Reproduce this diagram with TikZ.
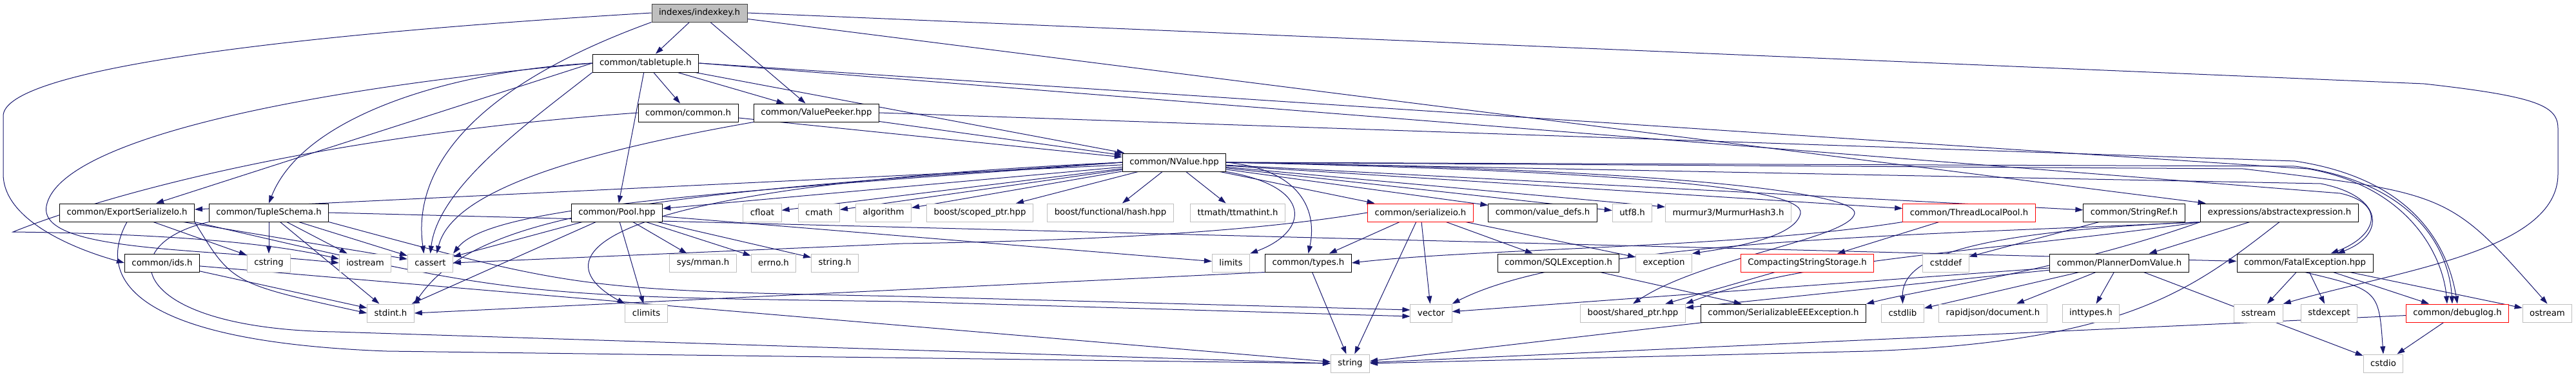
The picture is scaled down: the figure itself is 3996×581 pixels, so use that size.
\documentclass[tikz,border=0pt]{standalone}
\usepackage{fontspec}
\setmainfont{DejaVu Sans}
\usepackage{xcolor}
\usepackage{tikz}
\usetikzlibrary{arrows.meta, backgrounds, calc}
\definecolor{edgeColor}{HTML}{191970}
\definecolor{extBorder}{HTML}{BFBFBF}
\definecolor{rootFill}{HTML}{BFBFBF}
\definecolor{rootBorder}{HTML}{404040}
\definecolor{truncBorder}{HTML}{FF0000}

\begin{document}
\begin{tikzpicture}[x=1pt, y=-1pt,
    file/.style={rectangle, fill=white, line width=1pt, minimum height=28pt,
        inner xsep=11pt, inner ysep=0pt, font=\fontsize{13.3}{16}\selectfont},
    hdr/.style={file, draw=black},
    sys/.style={file, draw=extBorder},
    trunc/.style={file, draw=truncBorder},
    root/.style={file, fill=rootFill, draw=rootBorder},
    dep/.style={draw=edgeColor, line width=1pt, -{Triangle[length=12pt, width=8pt]}}]
    \useasboundingbox (0,0) rectangle (3996,581);

    \node[root] (ik) at (1085,20) {indexes/indexkey.h};
    \node[hdr] (tt) at (1001.5,98) {common/tabletuple.h};
    \node[hdr] (cm) at (1067.5,175) {common/common.h};
    \node[hdr] (vp) at (1266.5,175) {common/ValuePeeker.hpp};
    \node[hdr] (nv) at (1821.5,252) {common/NValue.hpp};

    \node[hdr] (esio) at (197,330) {common/ExportSerializeIo.h};
    \node[hdr] (ts) at (417,330) {common/TupleSchema.h};
    \node[hdr] (pool) at (957,330) {common/Pool.hpp};
    \node[sys] (cfloat) at (1182.5,330) {cfloat};
    \node[sys] (cmath) at (1270.5,330) {cmath};
    \node[sys] (algorithm) at (1370.5,330) {algorithm};
    \node[sys] (scoped) at (1520,330) {boost/scoped\_ptr.hpp};
    \node[sys] (fhash) at (1722.5,330) {boost/functional/hash.hpp};
    \node[sys] (ttm) at (1920,330) {ttmath/ttmathint.h};
    \node[trunc] (sio) at (2203.5,330) {common/serializeio.h};
    \node[hdr] (vdefs) at (2393,330) {common/value\_defs.h};
    \node[sys] (utf) at (2532,330) {utf8.h};
    \node[sys] (mmh) at (2681,330) {murmur3/MurmurHash3.h};
    \node[trunc] (tlp) at (3054.5,330) {common/ThreadLocalPool.h};
    \node[hdr] (sref) at (3310.5,330) {common/StringRef.h};
    \node[hdr] (aexp) at (3536,330) {expressions/abstractexpression.h};

    \node[hdr] (ids) at (251.5,408) {common/ids.h};
    \node[sys] (cstring) at (417,408) {cstring};
    \node[sys] (iostream) at (566.5,408) {iostream};
    \node[sys] (cassert) at (667.5,408) {cassert};
    \node[sys] (mman) at (1090.5,408) {sys/mman.h};
    \node[sys] (errno) at (1200,408) {errno.h};
    \node[sys] (strh) at (1295,408) {string.h};
    \node[sys] (limits) at (1909.5,408) {limits};
    \node[hdr] (types) at (2029.5,408) {common/types.h};
    \node[hdr] (sqlex) at (2417.5,408) {common/SQLException.h};
    \node[sys] (exception) at (2581,408) {exception};
    \node[trunc] (css) at (2803.5,408) {CompactingStringStorage.h};
    \node[sys] (cstddef) at (3018.5,408) {cstddef};
    \node[hdr] (pdv) at (3287.5,408) {common/PlannerDomValue.h};
    \node[hdr] (fatal) at (3575.5,408) {common/FatalException.hpp};

    \node[sys] (stdint) at (606,486) {stdint.h};
    \node[sys] (climits) at (1002.5,486) {climits};
    \node[sys] (vector) at (2220,486) {vector};
    \node[sys] (sharedptr) at (2533,486) {boost/shared\_ptr.hpp};
    \node[hdr] (seee) at (2766.5,486) {common/SerializableEEException.h};
    \node[sys] (cstdlib) at (2951.5,486) {cstdlib};
    \node[sys] (rjdoc) at (3091.5,486) {rapidjson/document.h};
    \node[sys] (inttypes) at (3243.5,486) {inttypes.h};
    \node[sys] (sstream) at (3503.5,486) {sstream};
    \node[sys] (stdexcept) at (3613,486) {stdexcept};
    \node[trunc] (debuglog) at (3812,486) {common/debuglog.h};
    \node[sys] (ostream) at (3951.5,486) {ostream};

    \node[sys] (string) at (2094.5,564) {string};
    \node[sys] (cstdio) at (3697,564) {cstdio};

    \begin{pgfonlayer}{background}
    \fill[white] (0,0) rectangle (3996,581);

    \draw[dep] (ik) -- (tt);
    \draw[dep] (ik) -- (vp);
    \draw[dep] (ik.west) .. controls (420,55) and (5,110) .. (5,180) -- (5,270) .. controls (5,340) and (110,385) .. (ids.west);
    \draw[dep] (ik.south west) .. controls (720,140) and (640,270) .. ($(cassert.north)+(-10,0)$);
    \draw[dep] (ik) -- (aexp);
    \draw[dep] (ik.east) -- (3760,130) .. controls (3940,150) and (3968,165) .. (3968,200) -- (3968,270) .. controls (3968,390) and (3720,420) .. (sstream.north east);

    \draw[dep] (tt) -- (cm);
    \draw[dep] (tt) -- (vp);
    \draw[dep] (tt) -- (nv);
    \draw[dep] (tt) -- (pool);
    \draw[dep] (tt.west) .. controls (700,110) and (470,180) .. (ts.north);
    \draw[dep] (tt.west) -- (esio);
    \draw[dep] (tt.west) .. controls (450,140) and (90,220) .. (72,320) .. controls (60,390) and (300,385) .. (iostream.west);
    \draw[dep] (tt.south west) .. controls (820,190) and (680,290) .. (cassert.north);
    \draw[dep] (tt.east) -- (3630,300) .. controls (3700,315) and (3690,365) .. ($(fatal.north)+(40,0)$);
    \draw[dep] (tt.east) -- (3580,262) .. controls (3740,290) and (3790,400) .. ($(debuglog.north)+(-16,0)$);

    \draw[dep] (cm) -- (nv);
    \draw[dep] (cm.west) .. controls (500,210) and (170,300) .. (20,360) .. controls (200,362) and (400,372) .. ($(iostream.west)+(0,-6)$);

    \draw[dep] (vp) -- (nv);
    \draw[dep] (vp.south west) .. controls (880,240) and (700,300) .. ($(cassert.north)+(10,0)$);
    \draw[dep] (vp.east) -- (3560,250) .. controls (3760,280) and (3800,400) .. (debuglog.north);

    \draw[dep] (nv) -- (esio);
    \draw[dep] (nv) -- (pool);
    \draw[dep] (nv) -- (cfloat);
    \draw[dep] (nv) -- (cmath);
    \draw[dep] (nv) -- (algorithm);
    \draw[dep] (nv) -- (scoped);
    \draw[dep] (nv) -- (fhash);
    \draw[dep] (nv) -- (ttm);
    \draw[dep] (nv) -- (sio);
    \draw[dep] (nv) -- (vdefs);
    \draw[dep] (nv) -- (utf);
    \draw[dep] (nv) -- (mmh);
    \draw[dep] (nv) -- (tlp);
    \draw[dep] (nv) -- (sref);
    \draw[dep] (nv.west) .. controls (1100,300) and (760,320) .. (cassert.north east);
    \draw[dep] (nv.south east) .. controls (2040,290) and (2030,360) .. (limits.north east);
    \draw[dep] (nv.east) .. controls (2010,262) and (2045,320) .. (types.north);
    \draw[dep] (nv.east) .. controls (2500,265) and (2800,290) .. (2793,331) .. controls (2785,370) and (2680,385) .. (exception.north east);
    \draw[dep] (nv.east) .. controls (2600,262) and (2880,300) .. (2877,331) .. controls (2870,370) and (2640,400) .. (sharedptr.north);
    \draw[dep] (nv.east) -- (3600,285) .. controls (3700,305) and (3700,365) .. ($(fatal.north)+(50,0)$);
    \draw[dep] (nv.east) -- (3560,258) .. controls (3760,285) and (3800,400) .. ($(debuglog.north)+(-8,0)$);
    \draw[dep] (nv.east) -- (3480,262) .. controls (3800,300) .. (ostream.north);
    \draw[dep] (nv.west) .. controls (1000,300) and (740,330) .. (stdint.north east);
    \draw[dep] (nv.west) .. controls (900,290) and (840,400) .. (climits.north west);

    \draw[dep] (esio) -- (cstring);
    \draw[dep] (esio) -- (cassert);
    \draw[dep] (esio.south east) .. controls (360,440) .. (stdint.west);
    \draw[dep] (esio.south) .. controls (150,430) and (200,530) .. (600,545) -- (string.west);
    \draw[dep] (esio.south east) .. controls (800,460) .. (1400,468) -- ($(vector.west)+(0,5)$);

    \draw[dep] (ts) -- (cstring);
    \draw[dep] (ts) -- (iostream);
    \draw[dep] (ts) -- (cassert);
    \draw[dep] (ts) -- (stdint);
    \draw[dep] (ts.south east) .. controls (900,450) .. (1400,460) -- ($(vector.west)+(0,-5)$);
    \draw[dep] (ts.south west) .. controls (170,380) and (200,510) .. (520,515) -- (string.west);
    \draw[dep] (ts.east) -- (fatal);

    \draw[dep] (pool) -- (cassert);
    \draw[dep] (pool) -- (mman);
    \draw[dep] (pool) -- (errno);
    \draw[dep] (pool) -- (strh);
    \draw[dep] (pool) -- (climits);
    \draw[dep] (pool) -- (stdint);
    \draw[dep] (pool) -- (limits);

    \draw[dep] (sio.west) .. controls (2000,350) and (1800,372) .. (1400,378) -- (cassert.east);
    \draw[dep] (sio) -- (types);
    \draw[dep] (sio) -- (sqlex);
    \draw[dep] (sio) -- (exception);
    \draw[dep] (sio) -- (vector);
    \draw[dep] (sio) -- (string);

    \draw[dep] (tlp) -- (css);
    \draw[dep] (tlp.south west) .. controls (2700,385) and (2300,385) .. (types.east);
    \draw[dep] (sref) -- (cstddef);

    \draw[dep] (aexp) -- (pdv);
    \draw[dep] (aexp.south) .. controls (3400,450) and (3300,530) .. (2900,545) -- (string.east);
    \draw[dep] (aexp.south west) .. controls (3000,365) and (2450,370) .. (vector.north east);
    \draw[dep] (aexp.south west) .. controls (3100,390) and (2800,400) .. (sharedptr.north east);
    \draw[dep] (aexp.south west) .. controls (3200,420) and (3000,445) .. (seee.north east);
    \draw[dep] (aexp.south west) .. controls (3050,360) and (2950,400) .. (cstdlib.north);

    \draw[dep] (ids) -- (stdint);
    \draw[dep] (ids) -- (string);
    \draw[dep] (types.south west) -- (stdint.east);
    \draw[dep] (types) -- (string);
    \draw[dep] (sqlex) -- (seee);
    \draw[dep] (css) -- (sharedptr);

    \draw[dep] (pdv) -- (rjdoc);
    \draw[dep] (pdv) -- (inttypes);
    \draw[dep] (pdv) -- (cstdlib);
    \draw[dep] (pdv) -- (sharedptr);
    \draw[dep] (pdv) -- (vector);
    \draw[dep] (pdv) -- (cstdio);

    \draw[dep] (fatal) -- (sstream);
    \draw[dep] (fatal) -- (stdexcept);
    \draw[dep] (fatal) -- (debuglog);
    \draw[dep] (fatal) -- (ostream);
    \draw[dep] (fatal.south) .. controls (3690,450) .. (cstdio.north);

    \draw[dep] (seee) -- (string);
    \draw[dep] (debuglog) -- (cstdio);
    \draw[dep] (debuglog) -- (string);
    \end{pgfonlayer}
\end{tikzpicture}
\end{document}
